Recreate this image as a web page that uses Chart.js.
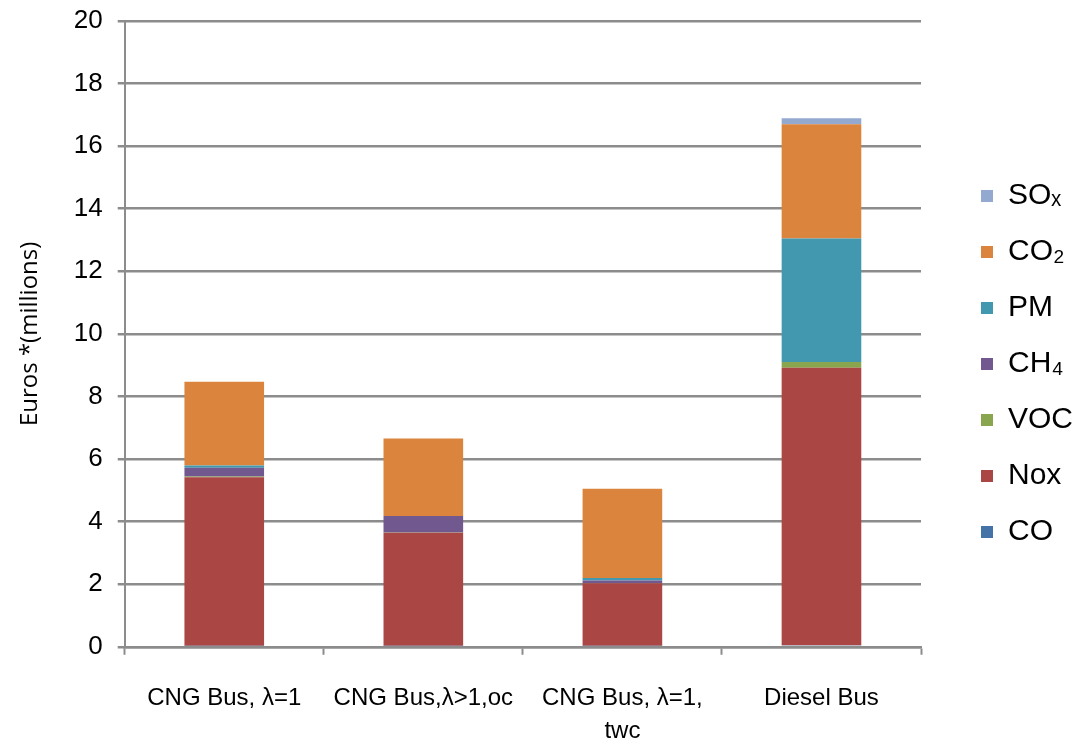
<!DOCTYPE html>
<html>
<head>
<meta charset="utf-8">
<script src="https://cdn.jsdelivr.net/npm/chart.js@4.4.0/dist/chart.umd.min.js"></script>
<style>
  html, body { margin: 0; padding: 0; background: #fff; }
  #wrap { width: 1081px; height: 742px; position: relative; overflow: hidden; }
</style>
</head>
<body>
<div id="wrap"><canvas id="chart" width="1081" height="742"></canvas></div>
<script>
const categories = ['CNG Bus, \u03bb=1', 'CNG Bus,\u03bb>1,oc', ['CNG Bus, \u03bb=1,', 'twc'], 'Diesel Bus'];

// stacked bottom to top, millions of euros
const coValues   = [0.03, 0.03, 0.03, 0.05];
const noxValues  = [5.39, 3.61, 2.00, 8.87];
const vocValues  = [0.02, 0.01, 0.01, 0.18];
const ch4Values  = [0.28, 0.53, 0.08, 0.00];
const pmValues   = [0.07, 0.00, 0.08, 3.95];
const co2Values  = [2.68, 2.48, 2.85, 3.65];
const soxValues  = [0.00, 0.00, 0.00, 0.19];

const yTicks = [0, 2, 4, 6, 8, 10, 12, 14, 16, 18, 20];

const series = [
  { label: 'CO',   data: coValues,  color: '#4572A7' },
  { label: 'Nox',  data: noxValues, color: '#AA4643' },
  { label: 'VOC',  data: vocValues, color: '#89A54E' },
  { label: 'CH\u2084',  data: ch4Values, color: '#71588F' },
  { label: 'PM',   data: pmValues,  color: '#4198AF' },
  { label: 'CO\u2082',  data: co2Values, color: '#DB843D' },
  { label: 'SO\u2093',  data: soxValues, color: '#93A9CF' }
];

const gridColor = '#8c8c8c';

// push the legend a bit further right of the plot, like the original
const legendShift = {
  id: 'legendShift',
  afterLayout(chart) {
    const lg = chart.legend;
    if (!lg) return;
    lg.left += 34;
    lg.right = lg.left + 200;
    lg.top -= 34;
    lg.bottom -= 34;
  }
};

new Chart(document.getElementById('chart').getContext('2d'), {
  type: 'bar',
  data: {
    labels: categories,
    datasets: series.map(s => ({
      label: s.label,
      data: s.data,
      backgroundColor: s.color,
      borderWidth: 0,
      categoryPercentage: 1.0,
      barPercentage: 0.4
    }))
  },
  plugins: [legendShift],
  options: {
    responsive: false,
    animation: false,
    layout: { padding: { top: 21, left: 4, right: 50, bottom: -33 } },
    plugins: {
      tooltip: { enabled: false },
      legend: {
        position: 'right',
        reverse: true,
        maxWidth: 110,
        labels: {
          color: '#000',
          font: { family: 'Liberation Sans, Arial, sans-serif', size: 30 },
          boxWidth: 12,
          boxHeight: 12,
          padding: 26
        }
      }
    },
    scales: {
      x: {
        stacked: true,
        grid: {
          display: true,
          drawOnChartArea: false,
          drawTicks: true,
          tickLength: 8,
          tickWidth: 2,
          tickColor: gridColor,
          offset: true
        },
        border: { display: true, color: gridColor, width: 2.5 },
        ticks: {
          color: '#000',
          padding: 27,
          maxRotation: 0,
          autoSkip: false,
          font: { family: 'Liberation Sans, Arial, sans-serif', size: 24, lineHeight: 1.38 }
        }
      },
      y: {
        stacked: true,
        min: 0,
        max: 20,
        afterBuildTicks: axis => { axis.ticks = yTicks.map(v => ({ value: v })); },
        afterFit: axis => { axis.paddingTop = 0; axis.paddingBottom = 0; },
        grid: {
          color: gridColor,
          lineWidth: 2.5,
          tickLength: 7,
          tickColor: gridColor
        },
        border: { display: true, color: gridColor, width: 2 },
        ticks: {
          color: '#000',
          padding: 15,
          font: { family: 'Liberation Sans, Arial, sans-serif', size: 26 }
        },
        title: {
          display: true,
          text: 'Euros *(millions)',
          color: '#000',
          padding: { top: 12, bottom: 14 },
          font: { family: 'Open Sans, Noto Sans, sans-serif', size: 24 }
        }
      }
    }
  }
});
</script>
</body>
</html>
